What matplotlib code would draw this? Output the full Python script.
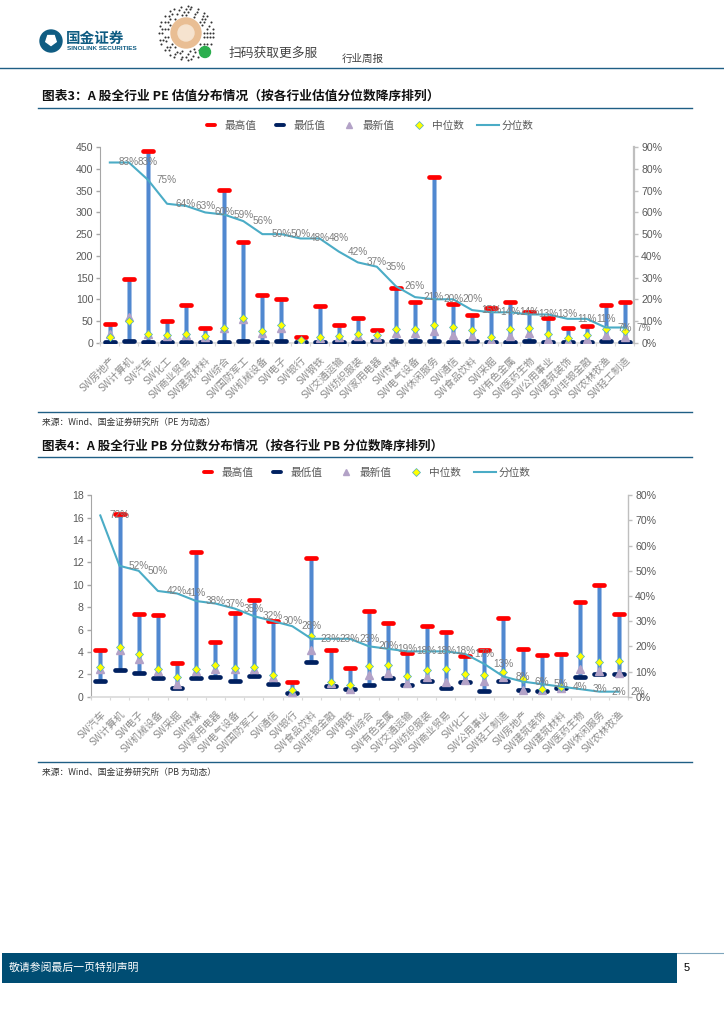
import numpy as np
import matplotlib
matplotlib.use('Agg')
import matplotlib.pyplot as plt
from matplotlib.lines import Line2D
from matplotlib.markers import MarkerStyle
from matplotlib.patches import Circle, Rectangle, RegularPolygon

plt.rcParams['font.family'] = ['Noto Sans CJK SC', 'DejaVu Sans']

W, H = 724, 1024

# chart 3: PE
pe_names = ['房地产', '计算机', '汽车', '化工', '商业贸易', '建筑材料', '综合', '国防军工', '机械设备', '电子',
            '银行', '钢铁', '交通运输', '纺织服装', '家用电器', '传媒', '电气设备', '休闲服务', '通信', '食品饮料',
            '采掘', '有色金属', '医药生物', '公用事业', '建筑装饰', '非银金融', '农林牧渔', '轻工制造']
pe_max = [44, 147, 441, 51, 87, 35, 351, 232, 110, 100, 12, 84, 40, 56, 30, 125, 93, 382, 90, 64,
          79, 93, 71, 58, 33, 39, 87, 93]
pe_min = [1, 5, 2, 2, 2, 1, 2, 4, 2, 4, 2, 1, 2, 2, 3, 4, 4, 4, 2, 5, 1, 2, 4, 2, 1, 1, 4, 2]
pe_last = [20, 60, 20, 15, 18, 14, 35, 54, 23, 35, 3, 10, 12, 15, 14, 22, 22, 28, 18, 16,
           6, 16, 22, 9, 3, 8, 18, 14]
pe_med = [13, 50, 20, 18, 20, 16, 33, 56, 28, 40, 6, 14, 15, 21, 17, 32, 32, 41, 36, 29,
          14, 32, 35, 19, 10, 18, 32, 26]
pe_pct = [83, 83, 75, 64, 63, 60, 59, 56, 50, 50, 48, 48, 42, 37, 35, 26, 21, 20, 20, 15,
          14, 14, 13, 13, 11, 11, 7, 7]

# chart 4: PB
pb_names = ['汽车', '计算机', '电子', '机械设备', '采掘', '传媒', '家用电器', '电气设备', '国防军工', '通信',
            '银行', '食品饮料', '非银金融', '钢铁', '综合', '有色金属', '交通运输', '纺织服装', '商业贸易', '化工',
            '公用事业', '轻工制造', '房地产', '建筑装饰', '建筑材料', '医药生物', '休闲服务', '农林牧渔']
pb_max = [4.15, 16.35, 7.35, 7.3, 3.0, 12.9, 4.9, 7.5, 8.6, 6.75, 1.3, 12.4, 4.2, 2.6, 7.7, 6.55,
          3.9, 6.35, 5.75, 3.65, 4.15, 7.05, 4.3, 3.7, 3.8, 8.5, 10.0, 7.4]
pb_min = [1.37, 2.38, 2.1, 1.64, 0.77, 1.64, 1.75, 1.43, 1.85, 1.13, 0.36, 3.1, 0.98, 0.69, 1.04, 1.67,
          1.04, 1.4, 0.8, 1.3, 0.48, 1.43, 0.57, 0.54, 0.77, 1.73, 2.05, 2.0]
pb_last = [2.44, 4.2, 3.4, 2.3, 1.13, 2.3, 2.5, 2.44, 2.5, 1.8, 0.4, 4.17, 1.2, 0.72, 1.94, 2.15,
           1.2, 1.73, 1.34, 1.5, 1.4, 1.73, 0.6, 0.6, 0.8, 2.47, 2.32, 2.09]
pb_med = [2.65, 4.4, 3.78, 2.44, 1.76, 2.47, 2.83, 2.53, 2.62, 1.97, 0.57, 5.4, 1.28, 1.04, 2.74, 2.86,
          1.82, 2.41, 2.5, 2.0, 1.9, 2.17, 1.58, 0.66, 0.89, 3.6, 3.13, 3.19]
pb_pct = [72, 52, 50, 42, 41, 38, 37, 35, 32, 30, 28, 23, 23, 23, 20, 19, 18, 18, 18, 17,
          13, 8, 6, 5, 4, 3, 2, 2]

series_names = ['最高值', '最低值', '最新值', '中位数', '分位数']

TEAL = '#1F5F85'
GREY = '#595959'
BAND = '#004D73'


def axes_px(left, top, right, bottom):
    return fig.add_axes([left / W, 1 - bottom / H, (right - left) / W, (bottom - top) / H])


def draw_chart(box, names, vmax, vmin, last, med, pct, yticks, pct_top, legend_xy, right_lw):
    ax = axes_px(*box)
    ax.patch.set_alpha(0)
    x = np.arange(len(names))
    ax.vlines(x, vmin, vmax, color='#B4CBEA', lw=3.6, zorder=2)
    ax.vlines(x, vmin, vmax, color='#5088D0', lw=2.4, zorder=2)
    cap = MarkerStyle('_', capstyle='round')
    ax.plot(x, vmax, ls='none', marker=cap, ms=7.5, mew=3.4, color='#FF0000', zorder=3)
    ax.plot(x, vmin, ls='none', marker=cap, ms=7.5, mew=3.4, color='#002060', zorder=3)
    ax.plot(x, last, ls='none', marker='^', ms=6, color='#B3A2C7', mec='#B3A2C7', zorder=4)
    ax.plot(x, med, ls='none', marker='D', ms=3.6, color='#FFFF00', mec='#4BACC6', mew=0.5, zorder=5)

    ax.set_xlim(-0.5, len(names) - 0.5)
    ax.set_ylim(yticks[0], yticks[-1])
    ax.set_yticks(yticks)
    ax.set_xticks(x)
    ax.set_xticklabels(['SW' + n for n in names], rotation=45, ha='right', va='top',
                       rotation_mode='anchor', fontsize=7.2, color='#8C8C8C')
    ax.set_xticks(np.arange(len(names) + 1) - 0.5, minor=True)
    ax.tick_params(axis='x', which='major', length=0, pad=9)
    ax.tick_params(axis='x', which='minor', length=2.5, color='#D9D9D9', width=0.8)
    ax.tick_params(axis='y', length=3, color='#A6A6A6', width=1, labelsize=7.6, labelcolor=GREY, pad=2)
    for t in ax.get_yticklabels():
        t.set_fontfamily('Liberation Sans')
    for s in ['top', 'right']:
        ax.spines[s].set_visible(False)
    ax.spines['left'].set_color('#A6A6A6')
    ax.spines['bottom'].set_color('#D9D9D9')
    ax.spines['bottom'].set_linewidth(1.2)

    ax2 = ax.twinx()
    ax2.plot(x, pct, color='#4BACC6', lw=1.5, solid_joinstyle='round', zorder=6)
    # the labels sit one category to the right of their point in the reference
    for i, v in enumerate(pct):
        ax2.text(i + 1, v, f'{v}%', ha='center', va='center', fontsize=7.2, color='#7F7F7F',
                 family='Liberation Sans', zorder=7, clip_on=False)
    ax2.set_ylim(0, pct_top)
    ax2.set_yticks(np.arange(0, pct_top + 1, 10))
    ax2.set_yticklabels([f'{v}%' for v in np.arange(0, pct_top + 1, 10)], family='Liberation Sans')
    ax2.tick_params(axis='y', length=3, color='#BFBFBF', width=1, labelsize=7.6, labelcolor=GREY, pad=2)
    for s in ['top', 'left', 'bottom']:
        ax2.spines[s].set_visible(False)
    ax2.spines['right'].set_color('#BFBFBF')
    ax2.spines['right'].set_linewidth(right_lw)

    handles = [
        Line2D([], [], ls='none', marker=cap, ms=5.5, mew=2.8, color='#FF0000'),
        Line2D([], [], ls='none', marker=cap, ms=5.5, mew=2.8, color='#002060'),
        Line2D([], [], ls='none', marker='^', ms=5, color='#B3A2C7'),
        Line2D([], [], ls='none', marker='D', ms=3.6, color='#FFFF00', mec='#4BACC6', mew=0.5),
        Line2D([], [], color='#4BACC6', lw=1.5),
    ]
    fig.legend(handles, series_names, ncol=5, loc='center', frameon=False, fontsize=7.7,
               labelcolor=GREY, handlelength=2.05, handletextpad=0.25, columnspacing=1.2,
               borderpad=0, borderaxespad=0,
               bbox_to_anchor=(legend_xy[0] / W, 1 - legend_xy[1] / H))


def draw_page(pg):
    pg.set_xlim(0, W)
    pg.set_ylim(H, 0)
    pg.axis('off')

    # header
    pg.plot([0, W], [68, 68], color=TEAL, lw=1)
    pg.add_patch(Circle((51, 41), 11, color='#0F5C82'))
    pg.add_patch(RegularPolygon((51, 40), 5, radius=5.5, color='white'))
    pg.text(66, 38, '国金证券', fontsize=10.5, fontweight='bold', color='#0F5C82', va='center')
    pg.text(67, 48, 'SINOLINK SECURITIES', fontsize=4.6, fontweight='bold', color='#0F5C82',
            va='center', family='Liberation Sans')

    # qr badge, only a rough stand-in made of rings of dots
    for r, n in zip([27, 24, 21, 18], [46, 40, 34, 28]):
        ang = np.linspace(0, 2 * np.pi, n, endpoint=False)
        keep = (np.arange(n) * 7 % 5) < 3
        pg.scatter(186 + r * np.cos(ang[keep]), 33 + r * np.sin(ang[keep]), s=2.2, color='#333333', lw=0)
    pg.add_patch(Circle((186, 33), 15, color='#E9BE94', zorder=3))
    pg.add_patch(Circle((186, 33), 8, color='#F6E3CF', zorder=3))
    pg.add_patch(Circle((205, 52), 5.5, color='#2BAE4E', zorder=4))
    pg.text(229, 53, '扫码获取更多服', fontsize=9.2, color='#444444', va='center')
    pg.text(342, 59, '行业周报', fontsize=7.6, color='#444444', va='center')

    # titles, rules, sources
    pg.text(42, 96, '图表3：A 股全行业 PE 估值分布情况（按各行业估值分位数降序排列）', fontsize=9.15,
            fontweight='bold', color='#111111', va='center')
    pg.plot([38, 692], [107.5, 107.5], color=TEAL, lw=1)
    pg.plot([38, 692], [411.5, 411.5], color=TEAL, lw=1)
    pg.text(42, 422, '来源：Wind、国金证券研究所（PE 为动态）', fontsize=6.3, color='#333333', va='center')

    pg.text(42, 446, '图表4：A 股全行业 PB 分位数分布情况（按各行业 PB 分位数降序排列）', fontsize=9.0,
            fontweight='bold', color='#111111', va='center')
    pg.plot([38, 692], [457, 457], color=TEAL, lw=1)
    pg.plot([38, 692], [761.5, 761.5], color=TEAL, lw=1)
    pg.text(42, 772, '来源：Wind、国金证券研究所（PB 为动态）', fontsize=6.3, color='#333333', va='center')

    # footer
    pg.add_patch(Rectangle((2, 953), 675, 30, color=BAND, lw=0))
    pg.plot([677, W], [953, 953], color='#7FA6BD', lw=0.8)
    pg.text(9, 968, '敬请参阅最后一页特别声明', fontsize=7.8, color='white', va='center')
    pg.text(684, 968, '5', fontsize=8, color='black', va='center', family='Liberation Sans')


fig = plt.figure(figsize=(W / 100, H / 100), dpi=100, facecolor='white')
draw_page(fig.add_axes([0, 0, 1, 1]))

draw_chart((100.3, 147.3, 634.3, 342.7), pe_names, pe_max, pe_min, pe_last, pe_med, pe_pct,
           list(range(0, 451, 50)), 90, (366.5, 126), 1.6)
draw_chart((90.7, 495.3, 628.3, 696.7), pb_names, pb_max, pb_min, pb_last, pb_med, pb_pct,
           list(range(0, 19, 2)), 80, (363.5, 473), 1.0)

fig.savefig('out.png', dpi=100)
